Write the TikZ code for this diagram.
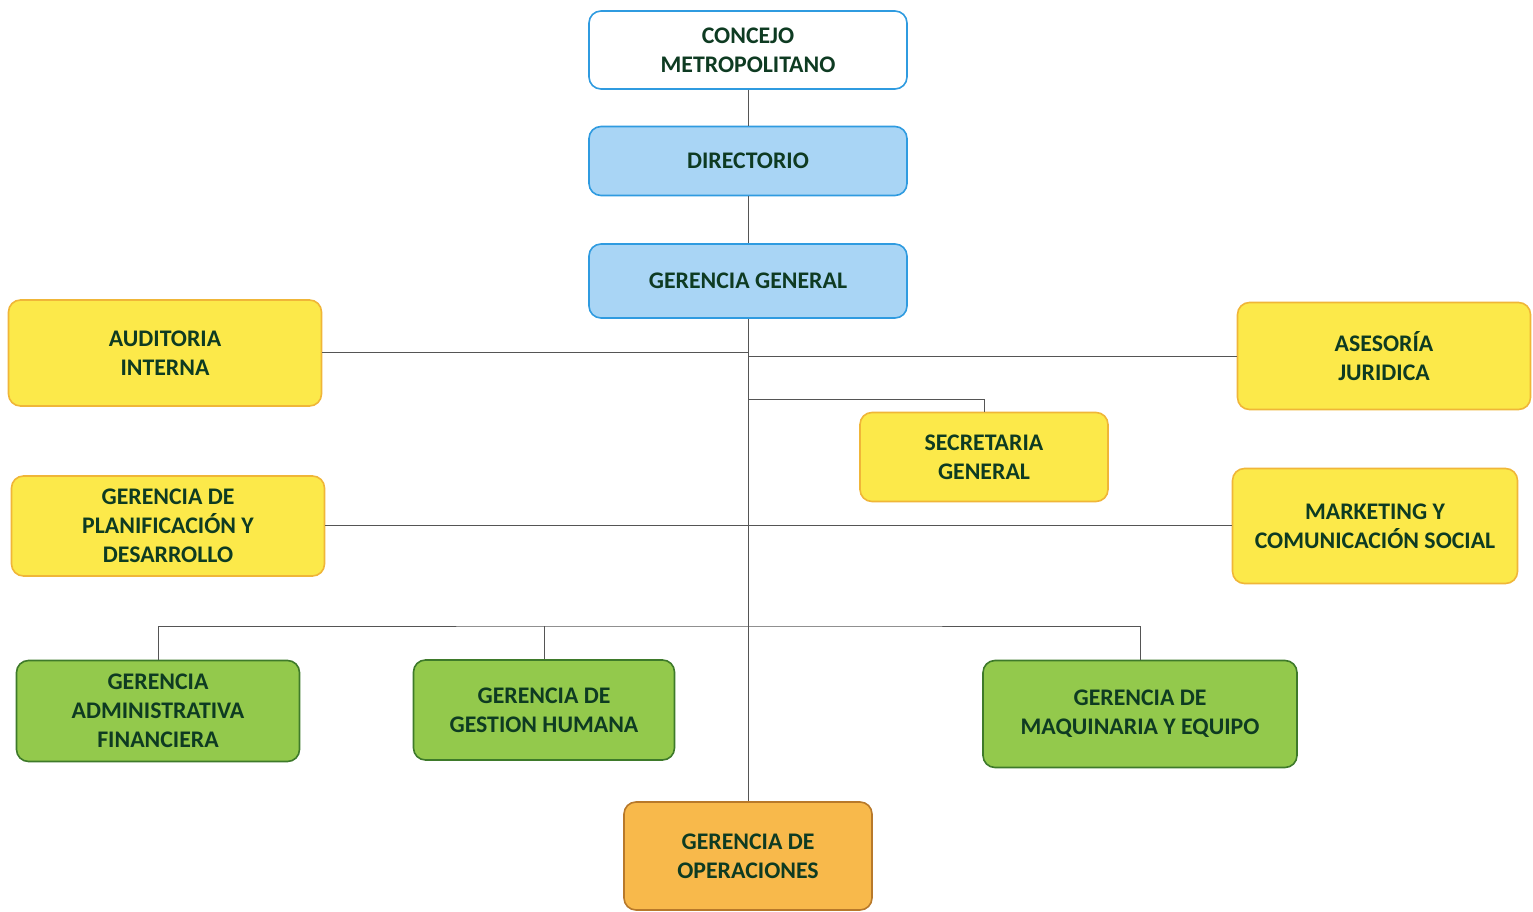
\documentclass[tikz,border=0pt]{standalone}
\usepackage{fontspec}
\setmainfont{Carlito}
\begin{document}
\begin{tikzpicture}[x=1pt,y=-1pt,
  box/.style={draw, line width=1.6pt, rounded corners=12pt, align=center,
    font=\fontsize{23.8}{29}\selectfont\bfseries, text=txt, inner sep=0pt},
  whitebox/.style={box, fill=white, draw=bbord},
  bluebox/.style={box, fill=bfill, draw=bbord},
  yelbox/.style={box, fill=yfill, draw=ybord},
  grnbox/.style={box, fill=gfill, draw=gbord},
  orgbox/.style={box, fill=ofill, draw=obord},
  link/.style={draw=lnk, line width=1pt}]
\definecolor{txt}{HTML}{0E3B22}
\definecolor{bbord}{HTML}{2F9BE0}
\definecolor{bfill}{HTML}{A9D5F5}
\definecolor{yfill}{HTML}{FCE94A}
\definecolor{ybord}{HTML}{F0B638}
\definecolor{gfill}{HTML}{93C94C}
\definecolor{gbord}{HTML}{3E7A2A}
\definecolor{ofill}{HTML}{F8B94B}
\definecolor{obord}{HTML}{B8792A}
\definecolor{lnk}{HTML}{555555}
\useasboundingbox (0,0) rectangle (1533,912);
\fill[white] (0,0) rectangle (1533,912);

\coordinate (j1) at (748,352);
\coordinate (j2) at (748,356);
\coordinate (j3) at (748,399);
\coordinate (j4) at (748,525);
\coordinate (j5) at (748,626);

\node[whitebox, minimum width=318, minimum height=78] (con) at (748,50) {CONCEJO\\METROPOLITANO};
\node[bluebox, minimum width=318, minimum height=69] (dir) at (748,161) {DIRECTORIO};
\node[bluebox, minimum width=318, minimum height=74] (gg) at (748,281) {GERENCIA GENERAL};
\node[yelbox, minimum width=313, minimum height=106] (aud) at (165,353) {AUDITORIA\\INTERNA};
\node[yelbox, minimum width=293, minimum height=107] (ase) at (1384,356) {ASESOR\'IA\\JURIDICA};
\node[yelbox, minimum width=248, minimum height=89] (sec) at (984,457) {SECRETARIA\\GENERAL};
\node[yelbox, minimum width=313, minimum height=100] (pla) at (168,526) {GERENCIA DE\\PLANIFICACI\'ON Y\\DESARROLLO};
\node[yelbox, minimum width=285, minimum height=115] (mkt) at (1375,526) {MARKETING Y\\COMUNICACI\'ON SOCIAL};
\node[grnbox, minimum width=283, minimum height=101] (adm) at (158,711) {GERENCIA\\ADMINISTRATIVA\\FINANCIERA};
\node[grnbox, minimum width=261, minimum height=100] (gh) at (544,710) {GERENCIA DE\\GESTION HUMANA};
\node[grnbox, minimum width=314, minimum height=107] (maq) at (1140,714) {GERENCIA DE\\MAQUINARIA Y EQUIPO};
\node[orgbox, minimum width=248, minimum height=108] (ope) at (748,856) {GERENCIA DE\\OPERACIONES};

\draw[link] (con.south) -- (dir.north);
\draw[link] (dir.south) -- (gg.north);
\draw[link] (gg.south) -- (ope.north);
\draw[link] (aud.east |- j1) -- (j1);
\draw[link] (j2) -- (ase.west |- j2);
\draw[link] (j3) -| (sec.north);
\draw[link] (pla.east |- j4) -- (mkt.west |- j4);
\draw[link] (adm.north) |- (j5) -| (maq.north);
\draw[link] (gh.north) -- (gh.north |- j5);
\end{tikzpicture}
\end{document}
